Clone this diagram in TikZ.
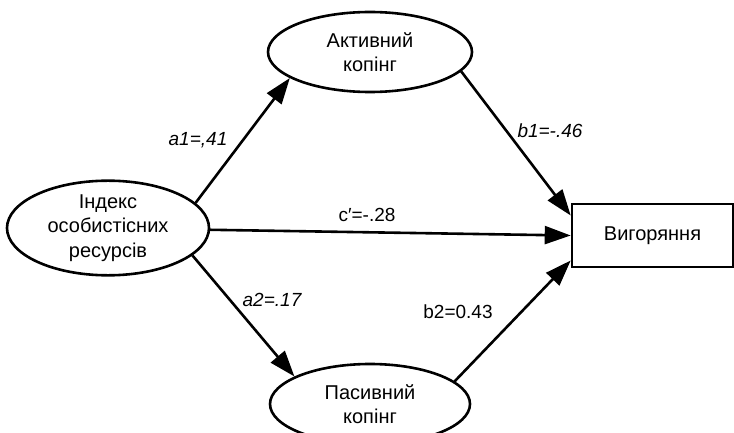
\documentclass[tikz,border=0pt]{standalone}
\usepackage{fontspec}
\setmainfont{Liberation Sans}
\usetikzlibrary{arrows.meta,calc,shapes.geometric}
\begin{document}
\begin{tikzpicture}[x=1pt,y=1pt,
  every node/.style={font=\fontsize{20}{24.5}\selectfont},
  ell/.style={draw,line width=2.6pt,ellipse,inner sep=0pt,align=center},
  box/.style={draw,line width=2.6pt,rectangle,inner sep=0pt,align=center},
  conn/.style={line width=2.6pt,-{Triangle[length=26pt,width=18pt]}},
  lab/.style={font=\fontsize{19}{22}\selectfont},
  labi/.style={font=\fontsize{19}{22}\selectfont\itshape}]
\clip (0,0) rectangle (734,432);
\node[ell,minimum width=202pt,minimum height=84pt] (L) at (108,204) {Індекс\\особистісних\\ресурсів};
\node[ell,minimum width=204pt,minimum height=80pt] (A) at (370,380) {Активний\\копінг};
\node[ell,minimum width=200pt,minimum height=80pt] (P) at (370,28) {Пасивний\\копінг};
\node[box,minimum width=161pt,minimum height=63pt] (R) at (652.5,196.5) {Вигоряння};
\draw[conn] (L.16) -- (A.198);
\draw[conn] (A.-12) -- ($(R.west)+(0,20)$);
\draw[conn] (L.-1) -- (R.west);
\draw[conn] (L.-18) -- (P.160);
\draw[conn] (P.15) -- ($(R.west)+(0,-25)$);
\node[labi] (la1) at (198,292) {a1=,41};
\node[labi] (la2) at (272,132) {a2=.17};
\node[labi] (lb1) at (550,301) {b1=-.46};
\node[lab] (lb2) at (458,120) {b2=0.43};
\node[lab] (lc) at (367,217) {c′=-.28};
\end{tikzpicture}
\end{document}
